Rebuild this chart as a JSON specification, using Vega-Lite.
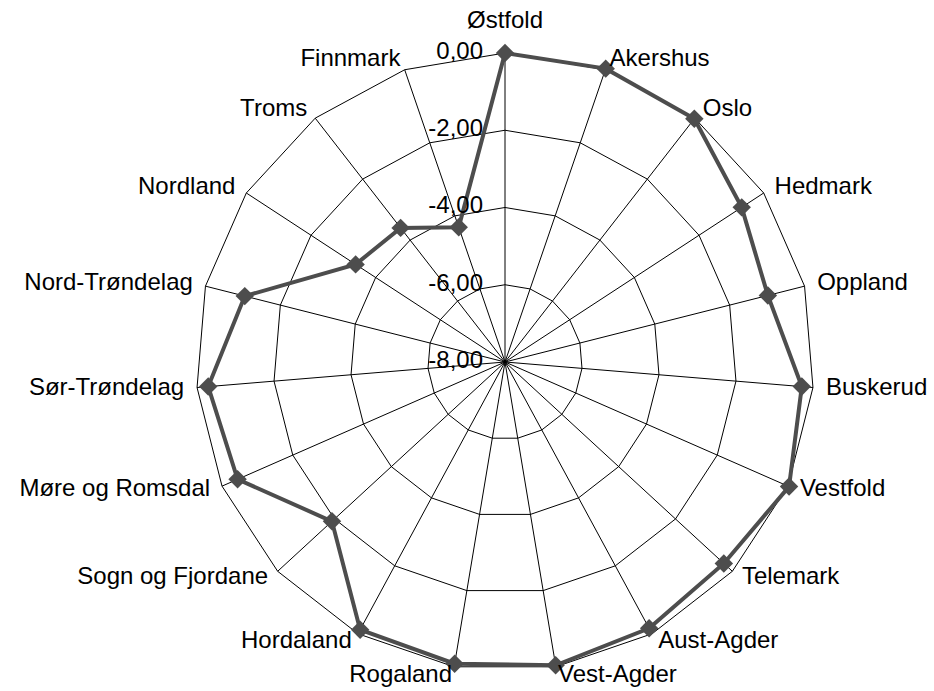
{
  "$schema": "https://vega.github.io/schema/vega-lite/v6.json",
  "width": 934,
  "height": 691,
  "autosize": {"type": "none"},
  "padding": 0,
  "background": "white",
  "config": {"view": {"stroke": null}, "text": {"font": "Liberation Sans", "fontSize": 24, "color": "#000"}},
  "datasets": {
    "counties": [
      {"county": "Østfold", "idx": 0, "value": 0.0},
      {"county": "Akershus", "idx": 1, "value": 0.03},
      {"county": "Oslo", "idx": 2, "value": -0.02},
      {"county": "Hedmark", "idx": 3, "value": -0.68},
      {"county": "Oppland", "idx": 4, "value": -0.98},
      {"county": "Buskerud", "idx": 5, "value": -0.29},
      {"county": "Vestfold", "idx": 6, "value": 0.03},
      {"county": "Telemark", "idx": 7, "value": -0.30},
      {"county": "Aust-Agder", "idx": 8, "value": -0.16},
      {"county": "Vest-Agder", "idx": 9, "value": -0.04},
      {"county": "Rogaland", "idx": 10, "value": -0.08},
      {"county": "Hordaland", "idx": 11, "value": -0.12},
      {"county": "Sogn og Fjordane", "idx": 12, "value": -1.91},
      {"county": "Møre og Romsdal", "idx": 13, "value": -0.44},
      {"county": "Sør-Trøndelag", "idx": 14, "value": -0.29},
      {"county": "Nord-Trøndelag", "idx": 15, "value": -1.05},
      {"county": "Nordland", "idx": 16, "value": -3.38},
      {"county": "Troms", "idx": 17, "value": -3.60},
      {"county": "Finnmark", "idx": 18, "value": -4.31}
    ],
    "ticks": [
      {"label": "0,00", "value": 0},
      {"label": "-2,00", "value": -2},
      {"label": "-4,00", "value": -4},
      {"label": "-6,00", "value": -6},
      {"label": "-8,00", "value": -8}
    ]
  },
  "layer": [
    {
      "data": {"name": "counties"},
      "transform": [
        {"calculate": "datum.idx*2*PI/19", "as": "ang"},
        {"calculate": "[0.25,0.5,0.75,1]", "as": "ring"},
        {"flatten": ["ring"]},
        {"calculate": "datum.ring*sin(datum.ang)", "as": "gx"},
        {"calculate": "datum.ring*cos(datum.ang)", "as": "gy"}
      ],
      "mark": {"type": "line", "interpolate": "linear-closed", "color": "#000", "strokeWidth": 1},
      "encoding": {
        "x": {"field": "gx", "type": "quantitative", "scale": {"domain": [-1.6343, 1.3883], "nice": false, "zero": false}, "axis": null},
        "y": {"field": "gy", "type": "quantitative", "scale": {"domain": [-1.0647, 1.1715], "nice": false, "zero": false}, "axis": null},
        "detail": {"field": "ring", "type": "nominal"},
        "order": {"field": "idx", "type": "quantitative"}
      }
    },
    {
      "data": {"name": "counties"},
      "transform": [
        {"calculate": "datum.idx*2*PI/19", "as": "ang"},
        {"calculate": "sin(datum.ang)", "as": "ox"},
        {"calculate": "cos(datum.ang)", "as": "oy"},
        {"calculate": "0", "as": "cz"}
      ],
      "mark": {"type": "rule", "color": "#000", "strokeWidth": 1},
      "encoding": {
        "x": {"field": "ox", "type": "quantitative"},
        "y": {"field": "oy", "type": "quantitative"},
        "x2": {"field": "cz"},
        "y2": {"field": "cz"}
      }
    },
    {
      "data": {"name": "counties"},
      "transform": [
        {"calculate": "datum.idx*2*PI/19", "as": "ang"},
        {"calculate": "(datum.value+8)/8*sin(datum.ang)", "as": "px"},
        {"calculate": "(datum.value+8)/8*cos(datum.ang)", "as": "py"}
      ],
      "mark": {"type": "line", "interpolate": "linear-closed", "color": "#4d4d4d", "strokeWidth": 4},
      "encoding": {
        "x": {"field": "px", "type": "quantitative"},
        "y": {"field": "py", "type": "quantitative"},
        "order": {"field": "idx", "type": "quantitative"}
      }
    },
    {
      "data": {"name": "counties"},
      "transform": [
        {"calculate": "datum.idx*2*PI/19", "as": "ang"},
        {"calculate": "(datum.value+8)/8*sin(datum.ang)", "as": "px"},
        {"calculate": "(datum.value+8)/8*cos(datum.ang)", "as": "py"}
      ],
      "mark": {"type": "point", "shape": "diamond", "filled": true, "size": 340, "color": "#4d4d4d", "opacity": 1},
      "encoding": {
        "x": {"field": "px", "type": "quantitative"},
        "y": {"field": "py", "type": "quantitative"}
      }
    },
    {
      "data": {"name": "counties"},
      "transform": [
        {"filter": "datum.idx >= 1 && datum.idx <= 9"},
        {"calculate": "datum.idx*2*PI/19", "as": "ang"},
        {"calculate": "sin(datum.ang)*(1+13/309)", "as": "lx"},
        {"calculate": "cos(datum.ang) + (cos(datum.ang)>0 ? 11 : 8)*cos(datum.ang)/309", "as": "ly"}
      ],
      "mark": {"type": "text", "align": "left", "baseline": "middle"},
      "encoding": {
        "x": {"field": "lx", "type": "quantitative"},
        "y": {"field": "ly", "type": "quantitative"},
        "text": {"field": "county", "type": "nominal"}
      }
    },
    {
      "data": {"name": "counties"},
      "transform": [
        {"filter": "datum.idx >= 10"},
        {"calculate": "datum.idx*2*PI/19", "as": "ang"},
        {"calculate": "sin(datum.ang)*(1+13/309)", "as": "lx"},
        {"calculate": "cos(datum.ang) + (cos(datum.ang)>0 ? 11 : 8)*cos(datum.ang)/309", "as": "ly"}
      ],
      "mark": {"type": "text", "align": "right", "baseline": "middle"},
      "encoding": {
        "x": {"field": "lx", "type": "quantitative"},
        "y": {"field": "ly", "type": "quantitative"},
        "text": {"field": "county", "type": "nominal"}
      }
    },
    {
      "data": {"name": "counties"},
      "transform": [
        {"filter": "datum.idx == 0"},
        {"calculate": "0", "as": "lx"},
        {"calculate": "1 + 32/309", "as": "ly"}
      ],
      "mark": {"type": "text", "align": "center", "baseline": "middle"},
      "encoding": {
        "x": {"field": "lx", "type": "quantitative"},
        "y": {"field": "ly", "type": "quantitative"},
        "text": {"field": "county", "type": "nominal"}
      }
    },
    {
      "data": {"name": "ticks"},
      "transform": [
        {"calculate": "(datum.value+8)/8", "as": "ty"},
        {"calculate": "-22/309", "as": "tx"}
      ],
      "mark": {"type": "text", "align": "right", "baseline": "middle", "dy": -1},
      "encoding": {
        "x": {"field": "tx", "type": "quantitative"},
        "y": {"field": "ty", "type": "quantitative"},
        "text": {"field": "label", "type": "nominal"}
      }
    }
  ]
}
